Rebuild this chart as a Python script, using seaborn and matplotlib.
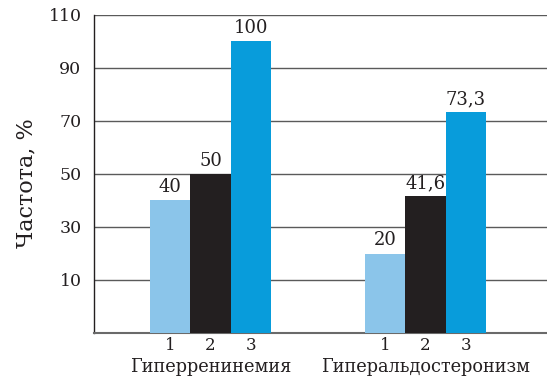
import pandas as pd
import matplotlib.pyplot as plt
import matplotlib.transforms as mtransforms
import seaborn as sns

# Data
groups = ["Гиперренинемия", "Гиперальдостеронизм"]
series = ["1", "2", "3"]
values_g1 = [40, 50, 100]
values_g2 = [20, 41.6, 73.3]
value_labels = ["40", "50", "100", "20", "41,6", "73,3"]
y_ticks = [10, 30, 50, 70, 90, 110]
palette = ["#8BC5EA", "#231F20", "#089CDB"]

df = pd.DataFrame({
    "group": [groups[0]] * 3 + [groups[1]] * 3,
    "series": series * 2,
    "value": values_g1 + values_g2,
})

sns.set_style("white")
plt.rcParams["font.family"] = ["DejaVu Serif"]

fig = plt.figure(figsize=(5.47, 3.80), dpi=100)
ax = fig.add_axes([94 / 547, 1 - 333 / 380, 453 / 547, (333 - 15) / 380])

sns.barplot(data=df, x="group", y="value", hue="series", palette=palette,
            width=0.563, gap=0, linewidth=0, saturation=1, legend=False,
            zorder=3, ax=ax)

y_bottom = -10
ax.set_ylim(y_bottom, 110)
ax.set_xlim(-0.542, 1.565)

# bars in the original start at the axis floor, not at zero
bars = sorted(ax.patches, key=lambda p: p.get_x())
for p in bars:
    h = p.get_height()
    p.set_y(y_bottom)
    p.set_height(h - y_bottom)

for p, lab in zip(bars, value_labels):
    top = p.get_y() + p.get_height()
    ax.annotate(lab, (p.get_x() + p.get_width() / 2, top), xytext=(0, 3),
                textcoords="offset points", ha="center", va="bottom",
                fontsize=13, color="#231F20")

# grid
ax.set_yticks(y_ticks)
ax.yaxis.grid(True, color="#5a5a5a", linewidth=1.0, zorder=0)
ax.set_axisbelow(True)
ax.tick_params(axis="y", length=0, pad=9, labelsize=12.5, labelcolor="#231F20")

# x ticks under each bar, group names below
centers = [p.get_x() + p.get_width() / 2 for p in bars]
ax.set_xticks(centers)
ax.set_xticklabels(series * 2)
ax.tick_params(axis="x", length=0, pad=3, labelsize=12, labelcolor="#231F20")
trans = mtransforms.blended_transform_factory(ax.transData, ax.transAxes)
for i, name in enumerate(groups):
    ax.text(i, -0.107, name, transform=trans, ha="center", va="center",
            fontsize=12.8, color="#231F20")

ax.set_xlabel("")
ax.set_ylabel("Частота, %", fontsize=16, color="#231F20")
ax.yaxis.set_label_coords(-0.124, 0.47)

for s in ["top", "right"]:
    ax.spines[s].set_visible(False)
ax.spines["left"].set_color("#231F20")
ax.spines["left"].set_linewidth(1.0)
ax.spines["bottom"].set_color("#6a6a6a")
ax.spines["bottom"].set_linewidth(1.5)

fig.savefig("out.png", dpi=100)
